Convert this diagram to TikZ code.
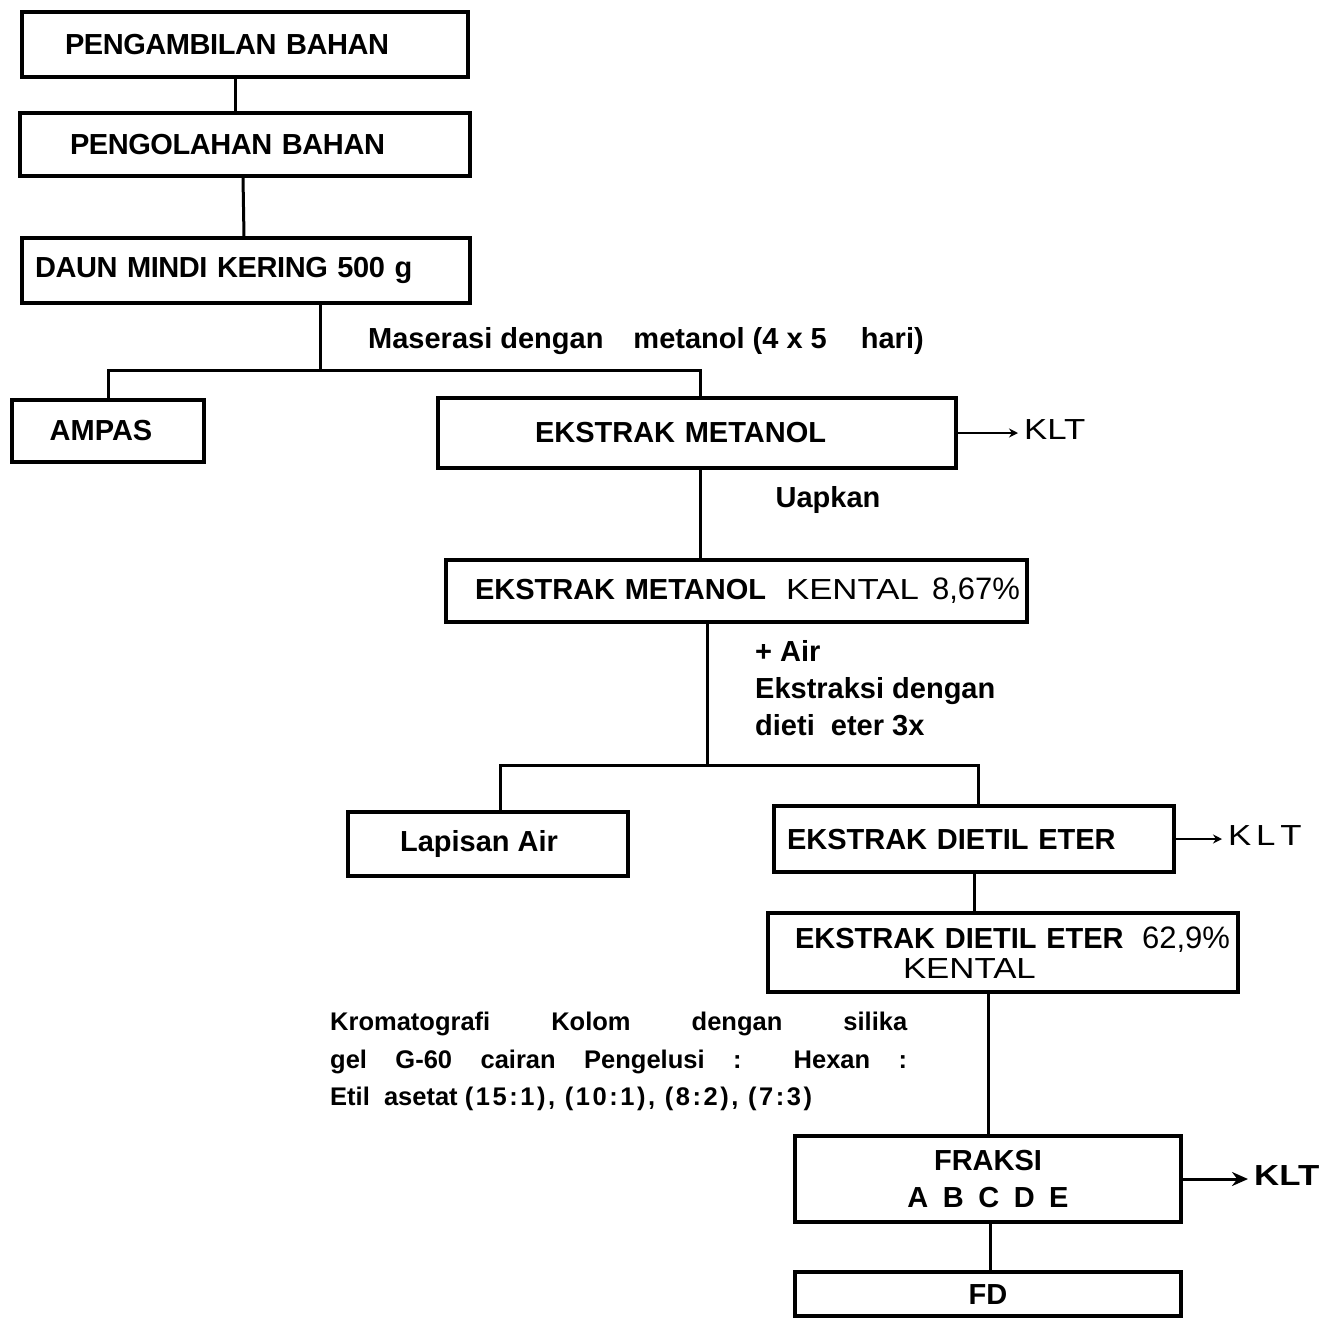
\documentclass[tikz,border=0pt]{standalone}
\usepackage{fontspec}
\setmainfont{Liberation Sans}
\newfontfamily\handfam{Liberation Sans}[FakeStretch=1.2]
\newfontfamily\widefam{Liberation Sans}[LetterSpace=10]
\newfontfamily\tightfam{Liberation Sans}[LetterSpace=-1.5]
\usepackage{tikz}
\usetikzlibrary{arrows.meta,positioning,calc}
\newcommand\flowfont{\fontsize{29}{35}\selectfont\bfseries}
\newcommand\notefont{\fontsize{25.5}{37.5}\selectfont\bfseries}
\newcommand\hand{\handfam\mdseries}
\newcommand\pct{\mdseries\fontsize{31}{35}\selectfont}
\tikzset{
  box/.style={draw, line width=3.2pt, inner sep=0pt, font=\flowfont, align=center},
  topbox/.style={box, font=\tightfam\flowfont},
  lbl/.style={inner sep=0pt, font=\flowfont, align=left},
  link/.style={line width=3pt},
  arr/.style={-{Stealth[length=9pt,width=9pt]}, line width=2.2pt, shorten >=4pt},
  arrbold/.style={-{Stealth[length=16pt,width=14pt]}, line width=3pt, shorten >=4pt}}

\begin{document}
\begin{tikzpicture}[x=1pt, y=-1pt]
  \useasboundingbox (0,0) rectangle (1329,1318);
  % main column
  \node[topbox, minimum width=446pt, minimum height=65pt, text width=360pt, align=left] (ambil) at (245,44.5) {PENGAMBILAN BAHAN};
  \node[topbox, minimum width=450pt, minimum height=63pt, text width=350pt, align=left] (olah) at (245,144.5) {PENGOLAHAN BAHAN};
  \node[topbox, minimum width=448pt, minimum height=65pt, text width=422pt, align=left] (daun) at (246,270.5) {DAUN MINDI KERING 500 g};
  \coordinate (bag1) at (320,370);
  \node[lbl, anchor=west] (maserasi) at (368,341) {Maserasi dengan\hspace{30pt}metanol (4 x 5\hspace{34pt}hari)};
  \node[box, minimum width=192pt, minimum height=62pt] (ampas) at (108,431) {AMPAS\hspace{14pt}};
  \node[box, minimum width=518pt, minimum height=70pt, text width=324pt, align=left] (metanol) at (697,433) {EKSTRAK METANOL};
  \node[lbl, anchor=west, inner xsep=2pt] (klt1) at (1022,430) {\hand KLT};
  \node[lbl] (uap) at (828,500) {Uapkan};
  \node[box, minimum width=581pt, minimum height=62pt, text width=567pt, align=left] (kental) at (736.5,591) {\hspace*{22pt}EKSTRAK METANOL\hspace{20pt}{\hand KENTAL}\hfill{\pct 8,67\%}};
  \coordinate (bag2) at (707,765);
  \node[lbl, anchor=north west] (air) at (755,640) {+ Air\\[2pt]Ekstraksi dengan\\[2pt]dieti\ \ eter 3x};
  \node[box, minimum width=280pt, minimum height=64pt] (lapisan) at (488,844) {Lapisan Air\hspace{18pt}};
  \node[box, minimum width=400pt, minimum height=66pt, text width=374pt, align=left] (dietil) at (974,839) {EKSTRAK DIETIL ETER};
  \node[lbl, anchor=west, inner xsep=2pt] (klt2) at (1226,836) {\hand\mdseries K\,L\,T};
  \node[box, minimum width=470pt, minimum height=79pt, text width=454pt, align=left] (dkental) at (1003,952.5) {\hspace*{19pt}EKSTRAK DIETIL ETER\hfill{\pct 62,9\%}\\[-5pt]\hspace*{127pt}{\hand KENTAL}};
  \node[inner sep=0pt, anchor=north west, text width=577pt, align=justify, font=\notefont] (kolom) at (330,1012) {Kromatografi Kolom dengan silika\linebreak gel G-60 cairan Pengelusi : Hexan :\linebreak Etil\ \ asetat {\widefam(15:1), (10:1), (8:2), (7:3)}};
  \node[box, minimum width=386pt, minimum height=86pt] (fraksi) at (988,1179) {FRAKSI\hspace{12pt}\\[2pt]A\enspace B\enspace C\enspace D\enspace E\hspace{22pt}};
  \node[lbl, anchor=west, inner xsep=2pt] (klt3) at (1252,1176) {\handfam\bfseries KLT};
  \node[box, minimum width=386pt, minimum height=44pt] (fd) at (988,1294) {FD};
  % connectors
  \draw[link] ([xshift=-10pt]ambil.south) -- ([xshift=-10pt]olah.north);
  \draw[link] ([xshift=-2pt]olah.south) -- ([xshift=-2pt]daun.north);
  \draw[link] (daun.south -| bag1) -- (bag1);
  \draw[link] (ampas.north) |- (bag1) -| ([xshift=3pt]metanol.north);
  \draw[arr] (metanol.east) -- (metanol.east -| klt1.west);
  \draw[link] ([xshift=3pt]metanol.south) -- ([xshift=3pt]metanol.south |- kental.north);
  \draw[link] (kental.south -| bag2) -- (bag2);
  \draw[link] ([xshift=12pt]lapisan.north) |- (bag2) -| ([xshift=4pt]dietil.north);
  \draw[arr] (dietil.east) -- (dietil.east -| klt2.west);
  \draw[link] (dietil.south) -- (dietil.south |- dkental.north);
  \draw[link] (fraksi.north |- dkental.south) -- (fraksi.north);
  \draw[arrbold] (fraksi.east) -- (fraksi.east -| klt3.west);
  \draw[link] ([xshift=2pt]fraksi.south) -- ([xshift=2pt]fd.north);
\end{tikzpicture}
\end{document}
